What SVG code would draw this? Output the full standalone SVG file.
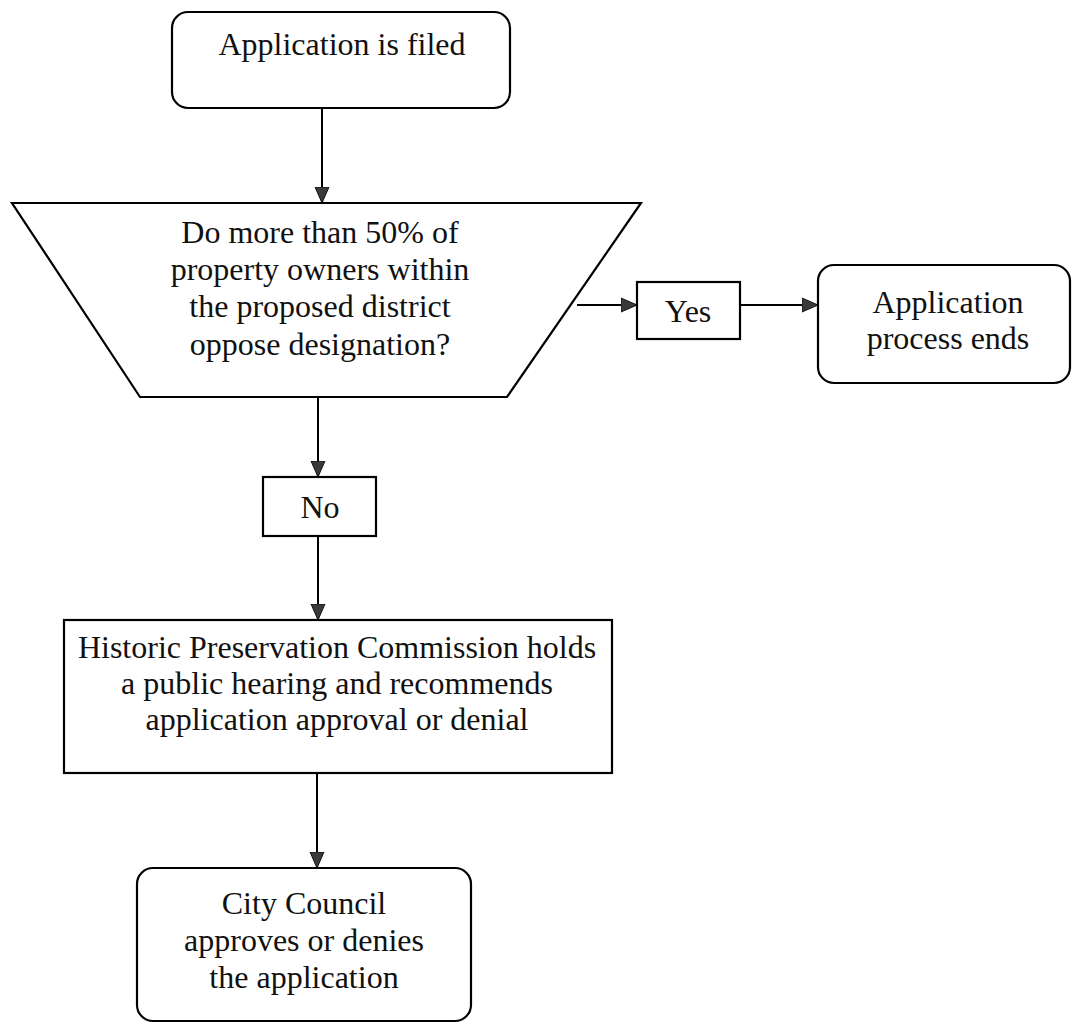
<svg xmlns="http://www.w3.org/2000/svg" width="1072" height="1023" viewBox="0 0 1072 1023">
  <style>
    .box { fill: #ffffff; stroke: #000000; stroke-width: 2.2; }
    .lbl { font-family: "Liberation Serif", "Times New Roman", serif; font-size: 32px; fill: #111111; text-anchor: middle; }
    .edge { stroke: #000000; stroke-width: 2; fill: none; marker-end: url(#arrow); }
  </style>
  <defs>
    <marker id="arrow" markerUnits="userSpaceOnUse" markerWidth="16" markerHeight="16" refX="16" refY="8" orient="auto">
      <path d="M0,1 L16,8 L0,15 z" fill="#3a3a3a" stroke="#111111" stroke-width="1"/>
    </marker>
  </defs>
  <rect width="1072" height="1023" fill="#ffffff"/>

  <!-- connectors -->
  <g id="connectors">
    <line class="edge" x1="322" y1="108" x2="322" y2="203"/>
    <line class="edge" x1="577" y1="305" x2="637" y2="305"/>
    <line class="edge" x1="740" y1="305" x2="818" y2="305"/>
    <line class="edge" x1="318" y1="397" x2="318" y2="477"/>
    <line class="edge" x1="318" y1="536" x2="318" y2="620"/>
    <line class="edge" x1="317" y1="773" x2="317" y2="868"/>
  </g>

  <g id="filed">
    <rect class="box" x="172" y="12" width="338" height="96" rx="16"/>
    <text class="lbl" x="342" y="55">Application is filed</text>
  </g>

  <g id="decision">
    <polygon class="box" points="12,203 641,203 507,397 140,397"/>
    <text class="lbl" x="320" y="243">Do more than 50% of</text>
    <text class="lbl" x="320" y="280">property owners within</text>
    <text class="lbl" x="320" y="317">the proposed district</text>
    <text class="lbl" x="320" y="355">oppose designation?</text>
  </g>

  <g id="yes">
    <rect class="box" x="637" y="282" width="103" height="57"/>
    <text class="lbl" x="688" y="322">Yes</text>
  </g>

  <g id="ends">
    <rect class="box" x="818" y="265" width="252" height="118" rx="16"/>
    <text class="lbl" x="948" y="313">Application</text>
    <text class="lbl" x="948" y="349">process ends</text>
  </g>

  <g id="no">
    <rect class="box" x="263" y="477" width="113" height="59"/>
    <text class="lbl" x="320" y="518">No</text>
  </g>

  <g id="hearing">
    <rect class="box" x="64" y="620" width="548" height="153"/>
    <text class="lbl" x="337" y="658">Historic Preservation Commission holds</text>
    <text class="lbl" x="337" y="694">a public hearing and recommends</text>
    <text class="lbl" x="337" y="730">application approval or denial</text>
  </g>

  <g id="council">
    <rect class="box" x="137" y="868" width="334" height="153" rx="16"/>
    <text class="lbl" x="304" y="914">City Council</text>
    <text class="lbl" x="304" y="951">approves or denies</text>
    <text class="lbl" x="304" y="988">the application</text>
  </g>
</svg>
